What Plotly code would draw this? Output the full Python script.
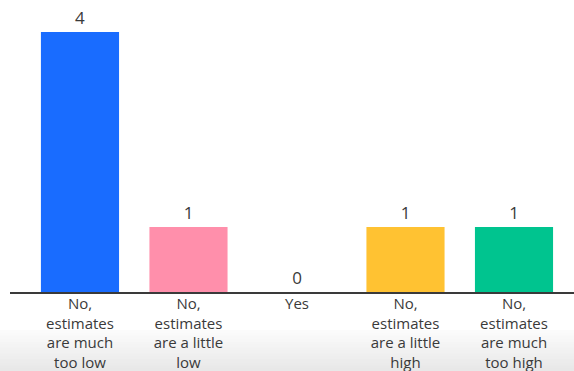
import plotly.graph_objects as go

# Poll results: "Are the estimates right?"
categories = [
    "No,<br>estimates<br>are much<br>too low",
    "No,<br>estimates<br>are a little<br>low",
    "Yes",
    "No,<br>estimates<br>are a little<br>high",
    "No,<br>estimates<br>are much<br>too high",
]
votes = [4, 1, 0, 1, 1]
bar_colors = ["#196CFF", "#FF8FAB", "#9AA0AE", "#FFC232", "#00C48F"]

W, H = 574, 371
M_L, M_R, M_T, M_B = 10, 0, 6, 79

fig = go.Figure(
    go.Bar(
        x=list(range(len(categories))),
        y=votes,
        marker=dict(color=bar_colors, line=dict(width=0)),
        width=0.72,
        text=[str(v) for v in votes],
        textposition="outside",
        textfont=dict(family="Open Sans", size=17, color="#3a3a3a"),
        cliponaxis=False,
        hoverinfo="skip",
    )
)

# soft grey fade along the bottom edge
plot_h = H - M_T - M_B
fade_top, fade_bottom, steps = 330, H, 14
for i in range(steps):
    y0_px = fade_top + (fade_bottom - fade_top) * i / steps
    y1_px = fade_top + (fade_bottom - fade_top) * (i + 1) / steps
    fig.add_shape(
        type="rect", xref="paper", yref="paper", layer="below",
        x0=-M_L / (W - M_L - M_R), x1=1,
        y0=(H - M_B - y1_px) / plot_h, y1=(H - M_B - y0_px) / plot_h,
        line=dict(width=0),
        fillcolor=f"rgba(120,120,120,{0.02 + 0.15 * (i + 1) / steps:.3f})",
    )

fig.update_layout(
    width=W, height=H,
    margin=dict(l=M_L, r=M_R, t=M_T, b=M_B),
    paper_bgcolor="white", plot_bgcolor="white",
    showlegend=False,
    bargap=0.28,
    xaxis=dict(
        range=[-0.645, 4.553],
        tickmode="array",
        tickvals=list(range(len(categories))),
        ticktext=categories,
        tickfont=dict(family="Open Sans", size=15, color="#3a3a3a"),
        ticklabelstandoff=-3,
        showgrid=False, zeroline=False,
        showline=True, linecolor="#3a3a3a", linewidth=2,
        ticks="", ticklen=0, automargin=False, fixedrange=True,
    ),
    yaxis=dict(
        range=[0, 4.4],
        visible=False, showgrid=False, zeroline=False, fixedrange=True,
        automargin=False,
    ),
)

fig.write_html("out.html")
